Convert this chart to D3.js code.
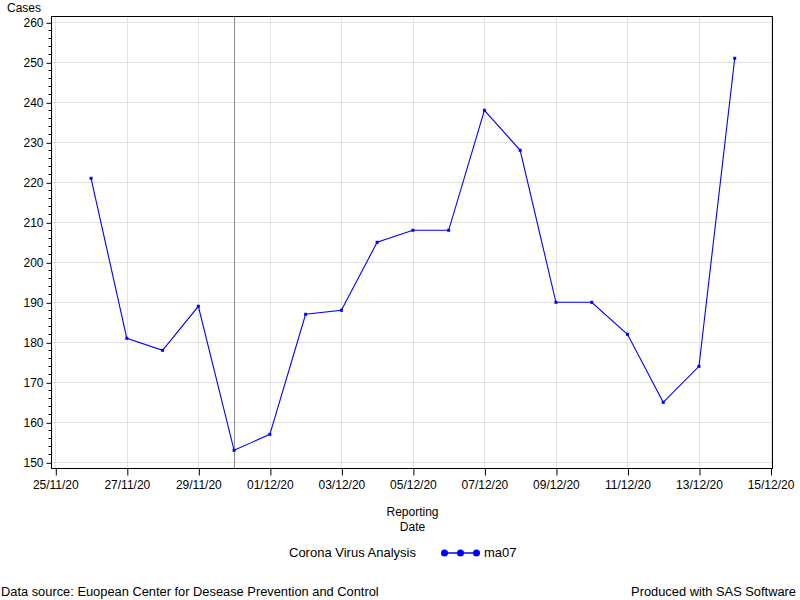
<!DOCTYPE html>
<html>
<head>
<meta charset="utf-8">
<script src="https://cdn.jsdelivr.net/npm/d3@7"></script>
<style>
  html, body { margin: 0; padding: 0; background: #fff; }
  svg { display: block; font-family: "Liberation Sans", Arial, sans-serif; }
</style>
</head>
<body>
<svg id="chart" width="800" height="600"></svg>
<script>
// ---- data ----
const dates = ["2020-11-26","2020-11-27","2020-11-28","2020-11-29","2020-11-30","2020-12-01","2020-12-02","2020-12-03","2020-12-04","2020-12-05","2020-12-06","2020-12-07","2020-12-08","2020-12-09","2020-12-10","2020-12-11","2020-12-12","2020-12-13","2020-12-14"];
const ma07 = [221,181,178,189,153,157,187,188,205,208,208,238,228,190,190,182,165,174,251];
const xTickDates = ["2020-11-25","2020-11-27","2020-11-29","2020-12-01","2020-12-03","2020-12-05","2020-12-07","2020-12-09","2020-12-11","2020-12-13","2020-12-15"];
const yTicks = [150,160,170,180,190,200,210,220,230,240,250,260];
const refDate = "2020-11-30";
const yLabel = "Cases";
const xLabelLines = ["Reporting","Date"];
const legendTitle = "Corona Virus Analysis";
const seriesName = "ma07";
const footLeft = "Data source: Euopean Center for Desease Prevention and Control";
const footRight = "Produced with SAS Software";

const parse = d3.utcParse("%Y-%m-%d");
const fmt = d3.utcFormat("%d/%m/%y");
const pts = dates.map((d, i) => ({ date: parse(d), v: ma07[i] }));

const svg = d3.select("#chart");
const frame = { left: 51.5, right: 772.5, top: 16.5, bottom: 468.5 };

const x = d3.scaleUtc()
  .domain([parse("2020-11-25"), parse("2020-12-15")])
  .range([55.3, 770.5]);
const y = d3.scaleLinear().domain([150, 260]).range([462.3, 22.3]);

const grid = "#e2e2e2";
// horizontal grid
svg.append("g").selectAll("line").data(yTicks).join("line")
  .attr("x1", frame.left).attr("x2", frame.right)
  .attr("y1", d => Math.round(y(d)) + 0.5).attr("y2", d => Math.round(y(d)) + 0.5)
  .attr("stroke", grid).attr("stroke-width", 1);
// vertical grid
svg.append("g").selectAll("line").data(xTickDates.map(parse)).join("line")
  .attr("x1", d => Math.round(x(d)) + 0.5).attr("x2", d => Math.round(x(d)) + 0.5)
  .attr("y1", frame.top).attr("y2", frame.bottom)
  .attr("stroke", grid).attr("stroke-width", 1);

// reference line
svg.append("line")
  .attr("x1", Math.round(x(parse(refDate))) + 0.5).attr("x2", Math.round(x(parse(refDate))) + 0.5)
  .attr("y1", frame.top).attr("y2", frame.bottom)
  .attr("stroke", "#8c8c8c").attr("stroke-width", 1);

// series line
svg.append("path").datum(pts)
  .attr("fill", "none").attr("stroke", "#0000ff").attr("stroke-width", 1.1)
  .attr("d", d3.line().x(d => x(d.date)).y(d => y(d.v)));
// markers
svg.append("g").selectAll("rect").data(pts).join("rect")
  .attr("x", d => x(d.date) - 1.5).attr("y", d => y(d.v) - 1.5)
  .attr("width", 3).attr("height", 3).attr("fill", "#0000ff");

// frame
svg.append("rect")
  .attr("x", frame.left).attr("y", frame.top)
  .attr("width", frame.right - frame.left).attr("height", frame.bottom - frame.top)
  .attr("fill", "none").attr("stroke", "#000").attr("stroke-width", 1);

// y axis
const yAxisG = svg.append("g").attr("transform", `translate(${frame.left},0)`);
const minorY = d3.range(150, 261, 2).filter(v => v % 10 !== 0);
yAxisG.selectAll("line.minor").data(minorY).join("line").attr("class", "minor")
  .attr("x1", -3).attr("x2", 0)
  .attr("y1", d => Math.round(y(d)) + 0.5).attr("y2", d => Math.round(y(d)) + 0.5)
  .attr("stroke", "#000");
yAxisG.call(d3.axisLeft(y).tickValues(yTicks).tickSize(5).tickPadding(3).tickFormat(d3.format("d")))
  .call(g => g.select(".domain").remove())
  .call(g => g.selectAll(".tick line").attr("transform", "translate(0,0.5)"))
  .call(g => g.selectAll(".tick text").attr("font-size", 12).attr("font-family", "Liberation Sans, Arial, sans-serif").attr("fill", "#000"));

// x axis
const xAxisG = svg.append("g").attr("transform", `translate(0,${frame.bottom})`);
xAxisG.call(d3.axisBottom(x).tickValues(xTickDates.map(parse)).tickSize(7).tickPadding(5).tickFormat(fmt))
  .call(g => g.select(".domain").remove())
  .call(g => g.selectAll(".tick line").attr("transform", "translate(0.5,0)"))
  .call(g => g.selectAll(".tick text").attr("font-size", 12).attr("font-family", "Liberation Sans, Arial, sans-serif").attr("fill", "#000"));

// labels
svg.append("text").attr("x", 7).attr("y", 12).attr("font-size", 12).text(yLabel);
svg.append("g").selectAll("text").data(xLabelLines).join("text")
  .attr("x", 412.5).attr("y", (d, i) => 516 + i * 14.5)
  .attr("text-anchor", "middle").attr("font-size", 12).text(d => d);

// legend
svg.append("text").attr("x", 289).attr("y", 557).attr("font-size", 13).text(legendTitle);
svg.append("line").attr("x1", 442).attr("x2", 478).attr("y1", 553).attr("y2", 553)
  .attr("stroke", "#0000ff").attr("stroke-width", 1.5);
svg.append("g").selectAll("circle").data([444.5, 460.5, 476.5]).join("circle")
  .attr("cx", d => d).attr("cy", 553).attr("r", 3.5).attr("fill", "#0000ff");
svg.append("text").attr("x", 484).attr("y", 557).attr("font-size", 13).text(seriesName);

// footnotes
svg.append("text").attr("x", 1).attr("y", 596).attr("font-size", 12.85).text(footLeft);
svg.append("text").attr("x", 796).attr("y", 596).attr("text-anchor", "end").attr("font-size", 12.85).text(footRight);
</script>
</body>
</html>
